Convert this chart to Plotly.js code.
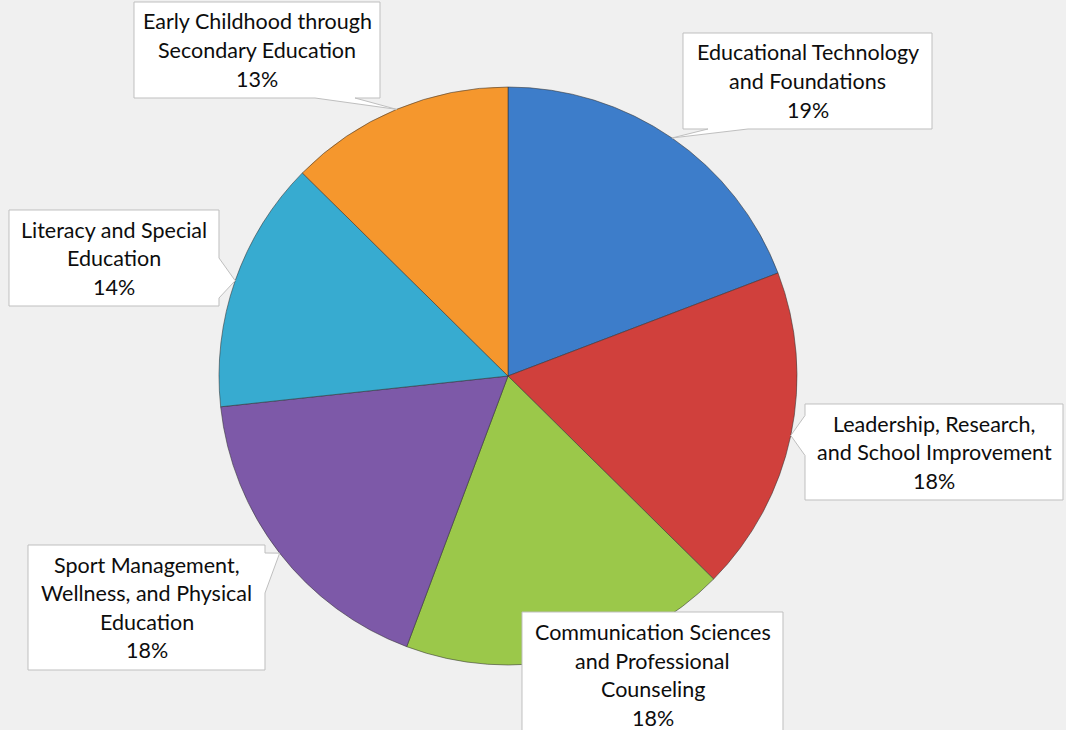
<!DOCTYPE html>
<html>
<head>
<meta charset="utf-8">
<script src="https://cdn.plot.ly/plotly-3.0.1.min.js"></script>
<style>html,body{margin:0;padding:0;background:#f0f0f0;}#chart{width:1066px;height:730px;}</style>
</head>
<body>
<div id="chart"></div>
<script>
// ---- data ----
var categories = [
  "Educational Technology and Foundations",
  "Leadership, Research, and School Improvement",
  "Communication Sciences and Professional Counseling",
  "Sport Management, Wellness, and Physical Education",
  "Literacy and Special Education",
  "Early Childhood through Secondary Education"
];
var labelLines = [
  ["Educational Technology", "and Foundations"],
  ["Leadership, Research,", "and School Improvement"],
  ["Communication Sciences", "and Professional", "Counseling"],
  ["Sport Management,", "Wellness, and Physical", "Education"],
  ["Literacy and Special", "Education"],
  ["Early Childhood through", "Secondary Education"]
];
var values = [19.2, 18.2, 18.3, 17.6, 14.1, 12.6];
var colors = ["#3d7dca", "#d0403c", "#9bc84a", "#7d59a8", "#37abd0", "#f5972d"];

// ---- layout geometry (pixels) ----
var W = 1066, H = 730;
var pieDomain = {x: [219 / W, 797 / W], y: [1 - 665 / H, 1 - 87 / H]};
// label boxes: left, top, width, height
var boxes = [
  [683, 33, 249, 96],
  [805, 404, 258, 96],
  [522, 612, 261, 126],
  [28, 545, 237, 125],
  [9, 210, 210, 96],
  [134, 2, 246, 96]
];
var lineGap = 28.5;
var fontSpec = {family: "Lato, 'Open Sans', sans-serif", size: 21.5, color: "#0d0d0d"};

function px(x) { return x / W; }
function py(y) { return 1 - y / H; }

var cx = (pieDomain.x[0] + pieDomain.x[1]) / 2 * W;
var cy = (1 - (pieDomain.y[0] + pieDomain.y[1]) / 2) * H;
var R = Math.min((pieDomain.x[1] - pieDomain.x[0]) * W, (pieDomain.y[1] - pieDomain.y[0]) * H) / 2;

var total = values.reduce(function (a, b) { return a + b; }, 0);
var shapes = [], annotations = [];
var cum = 0;
values.forEach(function (v, i) {
  var th = 2 * Math.PI * (cum + v / 2) / total;
  cum += v;
  var tx = cx + R * Math.sin(th), ty = cy - R * Math.cos(th);
  var b = boxes[i];
  var L = b[0], T = b[1], Rr = b[0] + b[2], B = b[1] + b[3];
  var dl = (L - tx) / b[2], dr = (tx - Rr) / b[2], dt = (T - ty) / b[3], db = (ty - B) / b[3];
  var m = Math.max(dl, dr, dt, db);
  var half = 20, path;
  function clamp(a, lo, hi) { return Math.max(lo, Math.min(hi, a)); }
  var pts;
  if (m <= 0) {
    pts = [[L, T], [Rr, T], [Rr, B], [L, B]];
  } else if (m === db) {
    var c = clamp(tx, L + half + 25, Rr - half - 25);
    pts = [[L, T], [Rr, T], [Rr, B], [c + half, B], [tx, ty], [c - half, B], [L, B]];
  } else if (m === dt) {
    var c2 = clamp(tx, L + half + 25, Rr - half - 25);
    pts = [[L, T], [c2 - half, T], [tx, ty], [c2 + half, T], [Rr, T], [Rr, B], [L, B]];
  } else if (m === dl) {
    var c3 = clamp(ty, T + half + 8, B - half - 8);
    pts = [[L, T], [Rr, T], [Rr, B], [L, B], [L, c3 + half], [tx, ty], [L, c3 - half]];
  } else {
    var c4 = clamp(ty, T + half + 8, B - half - 8);
    pts = [[L, T], [Rr, T], [Rr, c4 - half], [tx, ty], [Rr, c4 + half], [Rr, B], [L, B]];
  }
  path = "M" + pts.map(function (p) { return px(p[0]).toFixed(5) + "," + py(p[1]).toFixed(5); }).join(" L") + " Z";
  shapes.push({type: "path", xref: "paper", yref: "paper", path: path,
    fillcolor: "#ffffff", line: {color: "#bfbfbf", width: 1}, layer: "above"});
  var lines = labelLines[i].concat([Math.round(100 * v / total) + "%"]);
  var n = lines.length;
  var mid = T + b[3] / 2;
  lines.forEach(function (s, k) {
    annotations.push({xref: "paper", yref: "paper", x: px(L + b[2] / 2), y: py(mid + (k - (n - 1) / 2) * lineGap),
      xanchor: "center", yanchor: "middle", text: s, showarrow: false, font: fontSpec});
  });
});

var trace = {
  type: "pie",
  labels: categories,
  values: values,
  sort: false,
  direction: "clockwise",
  rotation: 0,
  textinfo: "none",
  hoverinfo: "label+percent",
  marker: {colors: colors, line: {color: "rgba(50,50,50,0.55)", width: 1}},
  domain: pieDomain,
  showlegend: false
};

var layout = {
  width: W, height: H,
  margin: {l: 0, r: 0, t: 0, b: 0},
  paper_bgcolor: "#f0f0f0",
  plot_bgcolor: "#f0f0f0",
  showlegend: false,
  shapes: shapes,
  annotations: annotations
};

Plotly.newPlot("chart", [trace], layout, {displayModeBar: false, staticPlot: true});
</script>
</body>
</html>
